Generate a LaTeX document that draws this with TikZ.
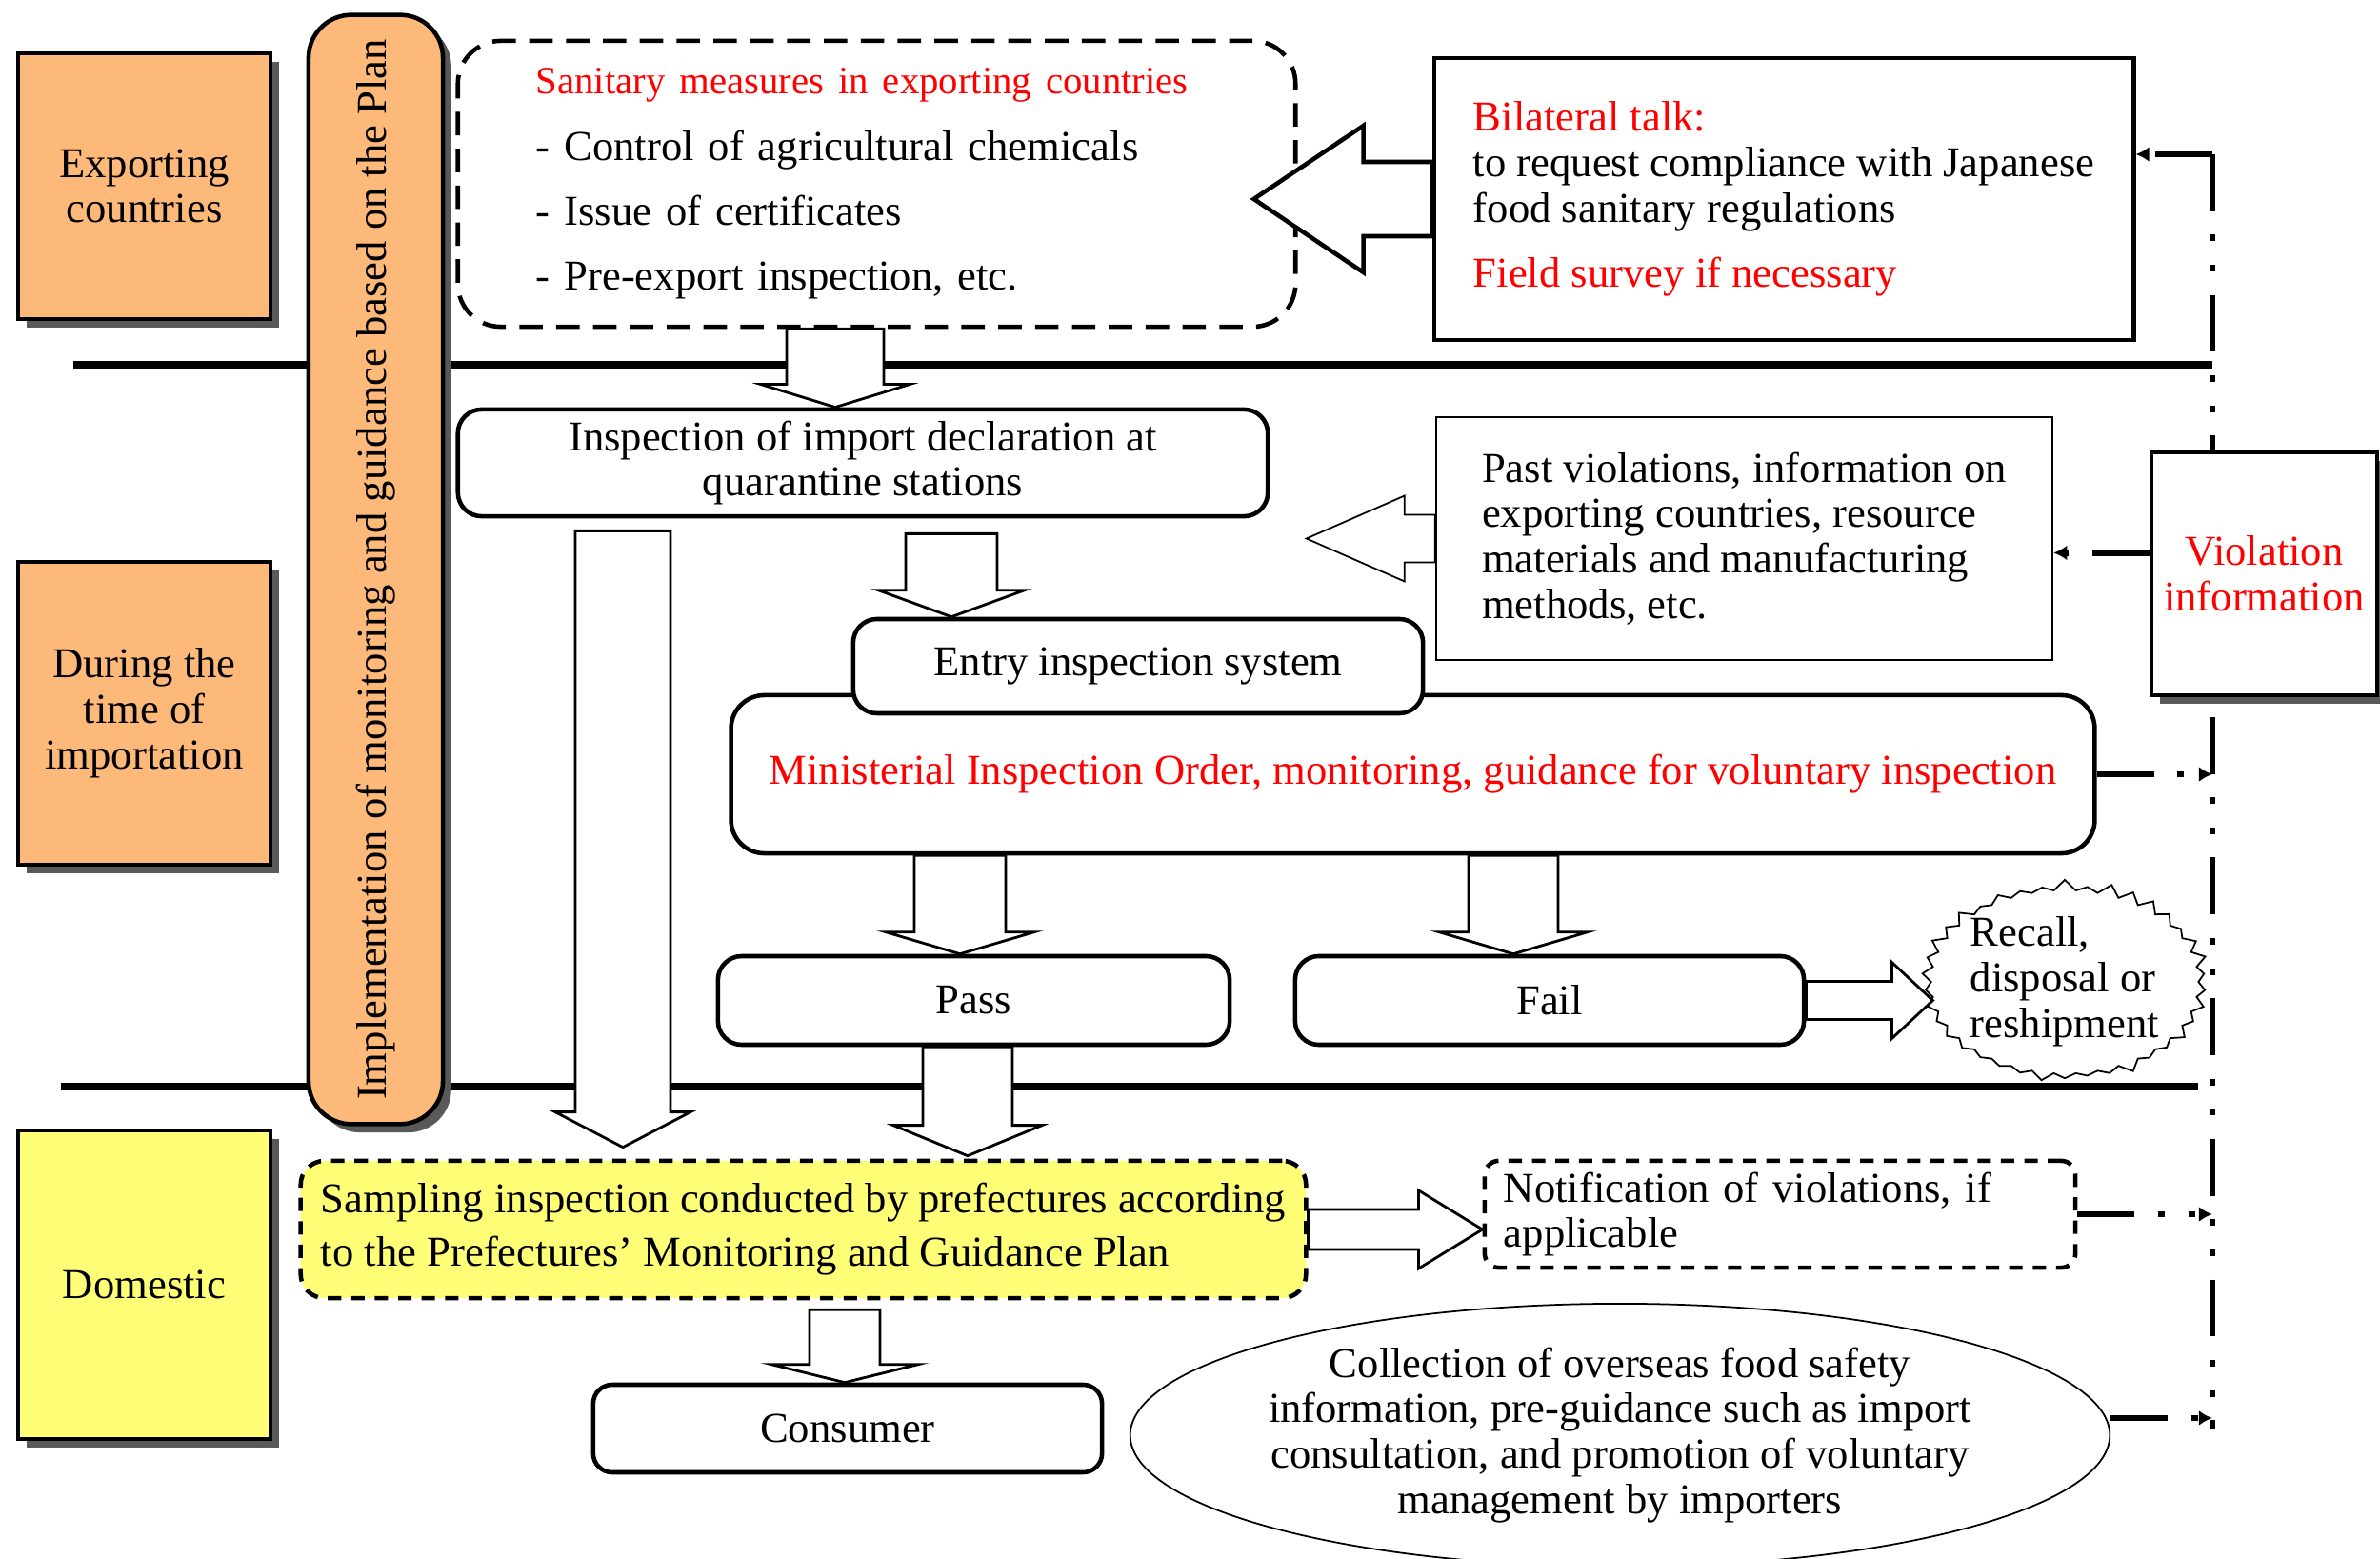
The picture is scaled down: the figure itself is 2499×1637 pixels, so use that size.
\documentclass[tikz,border=0pt]{standalone}
\usepackage{fontspec}
\setmainfont{Liberation Serif}
\usepackage{tikz}
\usetikzlibrary{arrows.meta, calc, positioning, shapes.geometric, shapes.symbols, shadows}
\definecolor{laneorange}{RGB}{253,185,122}
\definecolor{laneyellow}{RGB}{255,255,119}
\newcommand{\Red}[1]{\textcolor{red}{#1}}
\newcommand{\Normal}{\fontsize{12.7}{13.6}\selectfont}
\newcommand{\BlockArrow}[6][]{%
  \draw[hollow, #1] let \p1=(#2), \p2=(#3),
      \n1={atan2(\y2-\y1,\x2-\x1)}, \n2={veclen(\x2-\x1,\y2-\y1)} in
    [shift={(\p1)}, rotate=\n1]
    (0pt,-#4) -- (\n2*1pt-#6,-#4) -- (\n2*1pt-#6,-#5) -- (\n2*1pt,0pt)
    -- (\n2*1pt-#6,#5) -- (\n2*1pt-#6,#4) -- (0pt,#4) -- cycle;}
\tikzset{
    lane/.style={draw, line width=1.3pt, fill=laneorange, minimum width=2.65cm, align=center,
      drop shadow={shadow xshift=2.5pt, shadow yshift=-2.5pt, fill=black!65, opacity=1}},
    planbar/.style={draw, line width=1.3pt, fill=laneorange, rounded corners=0.45cm,
      drop shadow={shadow xshift=2.5pt, shadow yshift=-2.5pt, fill=black!65, opacity=1}},
    roundbox/.style={draw, line width=1.3pt, fill=white, rounded corners=0.25cm, align=center},
    plainbox/.style={draw, line width=1.3pt, fill=white, align=left},
    dashbox/.style={draw, line width=1.3pt, dash pattern=on 7pt off 4pt, rounded corners=0.3cm, align=left},
    ellip/.style={ellipse, draw, line width=0.5pt, align=center, inner sep=-0.3cm},
    hollow/.style={draw, fill=white, line width=0.8pt, line join=miter},
    infoline/.style={line width=1.8pt, dash pattern=on 17pt off 7pt on 2pt off 7pt on 2pt off 7pt},
    infoarrow/.style={infoline, -{Latex[length=4pt,width=4.5pt]}},
    separator/.style={line width=2.2pt},
}
\begin{document}
\begin{tikzpicture}[x=0.01cm, y=-0.01cm]
    \tikzset{every node/.append style={font=\Normal}}
    \clip (0,0) rectangle (2499,1637);

    \draw[separator] (77,383) -- (2323,383);
    \draw[separator] (64,1141) -- (2308,1141);
    \coordinate (vtop) at (2323,162);
    \coordinate (vbot) at (2323,1500);
    \draw[infoline] (vtop) -- (vbot);

    \node[lane, minimum height=2.79cm] (expo) at (151.5,195.5) {Exporting\\countries};
    \node[lane, minimum height=3.18cm] (during) at (151.5,749) {During the\\time of\\importation};
    \node[lane, fill=laneyellow, minimum height=3.24cm] (dom) at (151.5,1349) {Domestic};
    \node[planbar, rotate=90, minimum width=11.64cm, minimum height=1.41cm] (plan) at (394.5,598)
      {Implementation of monitoring and guidance based on the Plan};

    \node[dashbox, rounded corners=0.45cm, minimum width=8.79cm, minimum height=3cm, text width=7.15cm] (san) at (920.5,193)
      {\Red{\fontsize{11.6}{13}\selectfont Sanitary measures in exporting countries}\\[6.3pt]
       - Control of agricultural chemicals\\[5.8pt]
       - Issue of certificates\\[5.8pt]
       - Pre-export inspection, etc.};
    \node[plainbox, minimum width=7.34cm, minimum height=2.96cm] (bil) at (1873,209)
      {\Red{Bilateral talk:}\\to request compliance with Japanese\\food sanitary regulations\\[6pt]\Red{Field survey if necessary}};
    \node[plainbox, align=center, text=red, minimum width=2.37cm, minimum height=2.55cm,
      drop shadow={shadow xshift=2.5pt, shadow yshift=-2.5pt, fill=black!65, opacity=1}] (viol) at (2377.5,602.5)
      {Violation\\information};
    \node[plainbox, line width=0.6pt, minimum width=6.47cm, minimum height=2.55cm] (past) at (1831.5,565.5)
      {Past violations, information on\\exporting countries, resource\\materials and manufacturing\\methods, etc.};

    \node[roundbox, minimum width=8.5cm, minimum height=1.02cm] (insp) at (906,486)
      {Inspection of import declaration at\\quarantine stations};
    \node[roundbox, rounded corners=0.35cm, text=red, minimum width=14.31cm, minimum height=1.66cm] (mini) at (1483.5,813)
      {Ministerial Inspection Order, monitoring, guidance for voluntary inspection};
    \node[roundbox, minimum width=5.98cm, minimum height=0.99cm] (entry) at (1195,699.5) {Entry inspection system};
    \node[roundbox, minimum width=5.37cm, minimum height=0.93cm] (pass) at (1022.5,1050.5) {Pass};
    \node[roundbox, minimum width=5.34cm, minimum height=0.93cm] (fail) at (1627,1050.5) {Fail};
    \node[starburst, draw, fill=white, line width=0.5pt, align=left, inner sep=0pt, minimum width=2.9cm, minimum height=2.1cm,
      starburst points=38, starburst point height=0.12cm, random starburst=7] (recall) at (2168,1031)
      {Recall,\\disposal or\\reshipment};

    \node[dashbox, fill=laneyellow, dash pattern=on 4pt off 3pt, rounded corners=0.25cm, minimum width=10.55cm, minimum height=1.44cm] (samp) at (843.5,1291)
      {Sampling inspection conducted by prefectures according\\[2.3pt]to the Prefectures' Monitoring and Guidance Plan};
    \node[dashbox, dash pattern=on 4pt off 3pt, rounded corners=0.15cm, minimum width=6.2cm, minimum height=0.96cm, text width=5.8cm] (notif) at (1869,1275)
      {Notification of violations, if\\applicable};
    \node[roundbox, rounded corners=0.2cm, minimum width=5.34cm, minimum height=0.92cm] (cons) at (890,1500) {Consumer};
    \node[ellip, minimum width=10.28cm, minimum height=2.76cm] (coll) at (1701,1507)
      {Collection of overseas food safety\\information, pre-guidance such as import\\consultation, and promotion of voluntary\\management by importers};

    \coordinate (xa) at (877,0);
    \coordinate (xb) at (654,0);
    \coordinate (xc) at (999,0);
    \coordinate (xd) at (1008,0);
    \coordinate (xe) at (1589,0);
    \coordinate (xf) at (1016,0);
    \coordinate (xg) at (887,0);

    \BlockArrow{san.south -| xa}{insp.north -| xa}{0.51cm}{0.78cm}{0.24cm}
    \BlockArrow{$(insp.south -| xb)+(0,13)$}{$(samp.north -| xb)+(0,-12)$}{0.5cm}{0.71cm}{0.37cm}
    \BlockArrow{$(insp.south -| xc)+(0,16)$}{entry.north -| xc}{0.48cm}{0.77cm}{0.28cm}
    \BlockArrow[line width=0.5pt]{past.west}{$(past.west)+(-135,0)$}{0.25cm}{0.45cm}{1.03cm}
    \BlockArrow[line width=1.3pt]{bil.west}{$(bil.west)+(-187,0)$}{0.39cm}{0.77cm}{1.15cm}
    \BlockArrow{mini.south -| xd}{pass.north -| xd}{0.48cm}{0.78cm}{0.23cm}
    \BlockArrow{mini.south -| xe}{fail.north -| xe}{0.47cm}{0.78cm}{0.23cm}
    \BlockArrow{fail.east}{$(fail.east)+(133,0)$}{0.2cm}{0.4cm}{0.43cm}
    \BlockArrow{pass.south -| xf}{$(samp.north -| xf)+(0,-3)$}{0.47cm}{0.78cm}{0.32cm}
    \BlockArrow{samp.east}{samp.east -| notif.west}{0.21cm}{0.41cm}{0.67cm}
    \BlockArrow{$(samp.south -| xg)+(0,10)$}{cons.north -| xg}{0.37cm}{0.77cm}{0.19cm}

    \coordinate (vl) at ([yshift=0.22cm]viol.west);
    \coordinate (ce) at ([yshift=0.18cm]coll.east);
    \draw[infoarrow] (vtop) -- (vtop -| bil.east);
    \draw[infoarrow] (vl) -- (vl -| past.east);
    \draw[infoarrow] (mini.east) -- (mini.east -| vtop);
    \draw[infoarrow] (notif.east) -- (notif.east -| vtop);
    \draw[infoarrow] (ce) -- (ce -| vtop);
\end{tikzpicture}
\end{document}
